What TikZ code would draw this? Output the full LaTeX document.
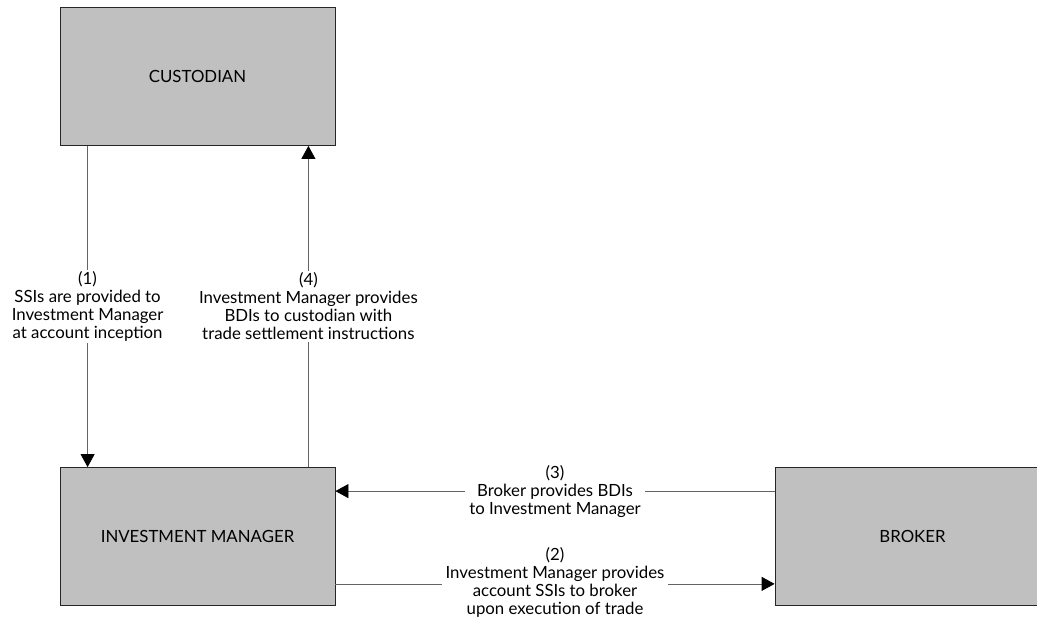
\documentclass[tikz,border=0pt]{standalone}
\usepackage{fontspec}
\setmainfont{Lato}
\definecolor{boxgray}{RGB}{192,192,192}
\definecolor{linegray}{RGB}{100,100,100}
\usetikzlibrary{arrows.meta}

\begin{document}
\begin{tikzpicture}[
  x=1pt,y=-1pt,
  every node/.style={font=\fontsize{16.8}{18}\selectfont},
  party/.style={draw=black!85,fill=boxgray,line width=0.8pt,minimum width=275pt,
                minimum height=138pt,inner sep=0pt},
  flow/.style={draw=linegray,line width=0.8pt,
               -{Triangle[width=14pt,length=13pt,color=black]}},
  lbl/.style={fill=white,align=center,inner xsep=4pt,inner ysep=2pt},
]
  \useasboundingbox (0,0) rectangle (1037,617);

  % Parties
  \node[party] (custodian) at (197.5,76.5) {CUSTODIAN};
  \node[party] (invmgr) at (197.5,536.5) {INVESTMENT MANAGER};
  \node[party] (broker) at (912.5,536.5) {BROKER};

  % Custodian <-> Investment Manager
  \draw[flow] ([xshift=28pt]custodian.south west) -- ([xshift=28pt]invmgr.north west)
    node[lbl,midway] {(1)\\SSIs are provided to\\Investment Manager\\at account inception};
  \draw[flow] ([xshift=-27pt]invmgr.north east) -- ([xshift=-27pt]custodian.south east)
    node[lbl,midway] {(4)\\Investment Manager provides\\BDIs to custodian with\\trade settlement instructions};

  % Investment Manager <-> Broker
  \draw[flow] ([yshift=-24pt]broker.north west) -- ([yshift=-24pt]invmgr.north east)
    node[lbl,midway] {(3)\\Broker provides BDIs\\to Investment Manager};
  \draw[flow] ([yshift=22pt]invmgr.south east) -- ([yshift=22pt]broker.south west)
    node[lbl,midway,yshift=1.5pt] {(2)\\Investment Manager provides\\account SSIs to broker\\upon execution of trade};
\end{tikzpicture}
\end{document}
